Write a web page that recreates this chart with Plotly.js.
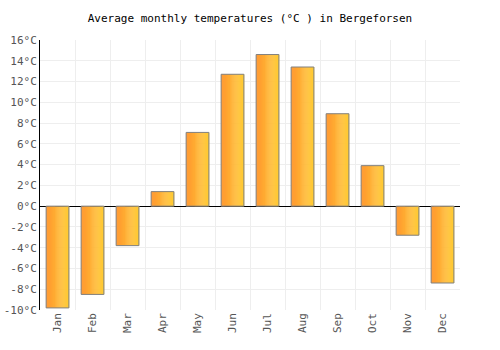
<!DOCTYPE html>
<html><head><meta charset="utf-8">
<script src="https://cdn.plot.ly/plotly-3.0.1.min.js"></script>
<style>html,body{margin:0;padding:0;background:#fff}#c{width:500px;height:350px}</style>
</head><body><div id="c"></div>
<script>
var months = ["Jan","Feb","Mar","Apr","May","Jun","Jul","Aug","Sep","Oct","Nov","Dec"];
var temps = [-9.8,-8.5,-3.8,1.4,7.1,12.7,14.6,13.4,8.9,3.9,-2.8,-7.4];
var yTicks = [-10,-8,-6,-4,-2,0,2,4,6,8,10,12,14,16];
var yTickText = yTicks.map(function(v){return v + "°C";});

var barW = 0.65, N = 24;
var c0 = [255,152,48], c1 = [255,204,52];
var traces = [];
for (var i = 0; i < N; i++) {
  var t = i/(N-1);
  var col = 'rgb(' + c0.map(function(a,k){return Math.round(a+(c1[k]-a)*t);}).join(',') + ')';
  traces.push({type:'bar', x:months, y:temps, offset:-barW/2 + i*barW/N, width:barW/N + 0.01,
    marker:{color:col, line:{width:0}}, hoverinfo:'skip', showlegend:false});
}
traces.push({type:'bar', x:months, y:temps, offset:-barW/2, width:barW,
  marker:{color:'rgba(0,0,0,0)', line:{color:'#808080', width:1}}, showlegend:false});

var font = {family:'"DejaVu Sans Mono", monospace', size:11, color:'#555'};
Plotly.newPlot('c', traces, {
  width:500, height:350,
  margin:{l:40, r:40, t:40, b:40},
  barmode:'overlay',
  paper_bgcolor:'#fff', plot_bgcolor:'#fff',
  font:font,
  title:{text:'Average monthly temperatures (°C ) in Bergeforsen', x:0.5, xanchor:'center', y:0.96,
    font:{family:'"DejaVu Sans Mono", monospace', size:11, color:'#000'}},
  xaxis:{type:'category', tickangle:-90, showgrid:true, gridcolor:'#eeeeee', tickson:'boundaries',
    ticks:'', showline:false, zeroline:false, tickfont:font, mirror:false},
  yaxis:{range:[-10,16], tickvals:yTicks, ticktext:yTickText, showgrid:true, gridcolor:'#eeeeee',
    zeroline:true, zerolinecolor:'#000', zerolinewidth:1, showline:true, linecolor:'#000', linewidth:1,
    ticks:'', tickfont:font}
}, {displayModeBar:false, staticPlot:true});
</script></body></html>
